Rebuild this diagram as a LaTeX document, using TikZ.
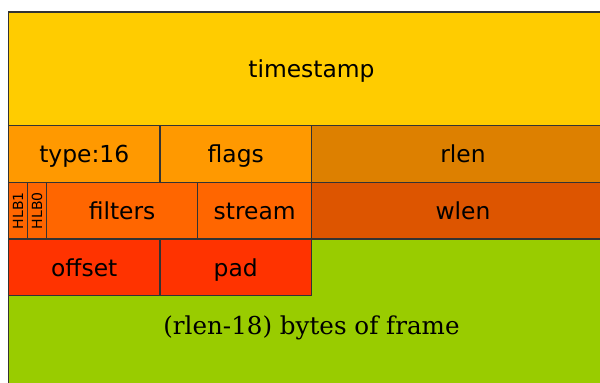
\documentclass[tikz,border=0pt]{standalone}
\usepackage{fontspec}
\setmainfont{DejaVu Serif}
\setsansfont{DejaVu Sans}
\usetikzlibrary{positioning,calc}
\definecolor{Gold}{HTML}{FFCC00}
\definecolor{Orange}{HTML}{FF9900}
\definecolor{DarkOrange}{HTML}{DD8000}
\definecolor{Tangerine}{HTML}{FF6600}
\definecolor{Rust}{HTML}{DD5500}
\definecolor{Scarlet}{HTML}{FF3300}
\definecolor{Lime}{HTML}{99CC00}
\tikzset{
  field/.style={draw=black!80,line width=0.6pt,inner sep=0pt,outer sep=0pt,minimum height=28.375pt,text height=10pt,text depth=1pt,font=\sffamily\fontsize{11.7}{14}\selectfont},
  bits/.style={minimum width=#1*4.734pt},
  tinyfield/.style={field,text height=,text depth=,font=\sffamily\fontsize{7}{8}\selectfont}
}
\begin{document}
\begin{tikzpicture}
  \useasboundingbox (0,0) rectangle (300pt,-191.5pt);
  \clip (0,0) rectangle (300pt,-191.5pt);
  % header words
  \node[field,bits=64,minimum height=56.75pt,fill=Gold,anchor=north west] (ts) at (4.25pt,-6pt) {timestamp};
  \node[field,bits=16,fill=Orange,below=0pt of ts.south west,anchor=north west] (type) {type:16};
  \node[field,bits=16,fill=Orange,right=0pt of type] (flags) {flags};
  \node[field,bits=32,fill=DarkOrange,right=0pt of flags] (rlen) {rlen};
  \node[tinyfield,bits=2,fill=Tangerine,below=0pt of type.south west,anchor=north west] (hlb1) {\rotatebox{90}{HLB1}};
  \node[tinyfield,bits=2,fill=Tangerine,right=0pt of hlb1] (hlb0) {\rotatebox{90}{HLB0}};
  \node[field,bits=16,fill=Tangerine,right=0pt of hlb0] (filters) {filters};
  \node[field,bits=12,fill=Tangerine,right=0pt of filters] (stream) {stream};
  \node[field,bits=32,fill=Rust,right=0pt of stream] (wlen) {wlen};
  % payload
  \node[field,bits=64,minimum height=85pt,fill=Lime,below=0pt of hlb1.south west,anchor=north west] (frame) {};
  \node[field,bits=16,fill=Scarlet,below=0pt of hlb1.south west,anchor=north west] (offset) {offset};
  \node[field,bits=16,fill=Scarlet,right=0pt of offset] (pad) {pad};
  \node[font=\rmfamily\fontsize{12.3}{15}\selectfont] (framelbl) at ($(offset.south -| frame.north)+(0,-16.25pt)$) {(rlen-18) bytes of frame};
\end{tikzpicture}
\end{document}
